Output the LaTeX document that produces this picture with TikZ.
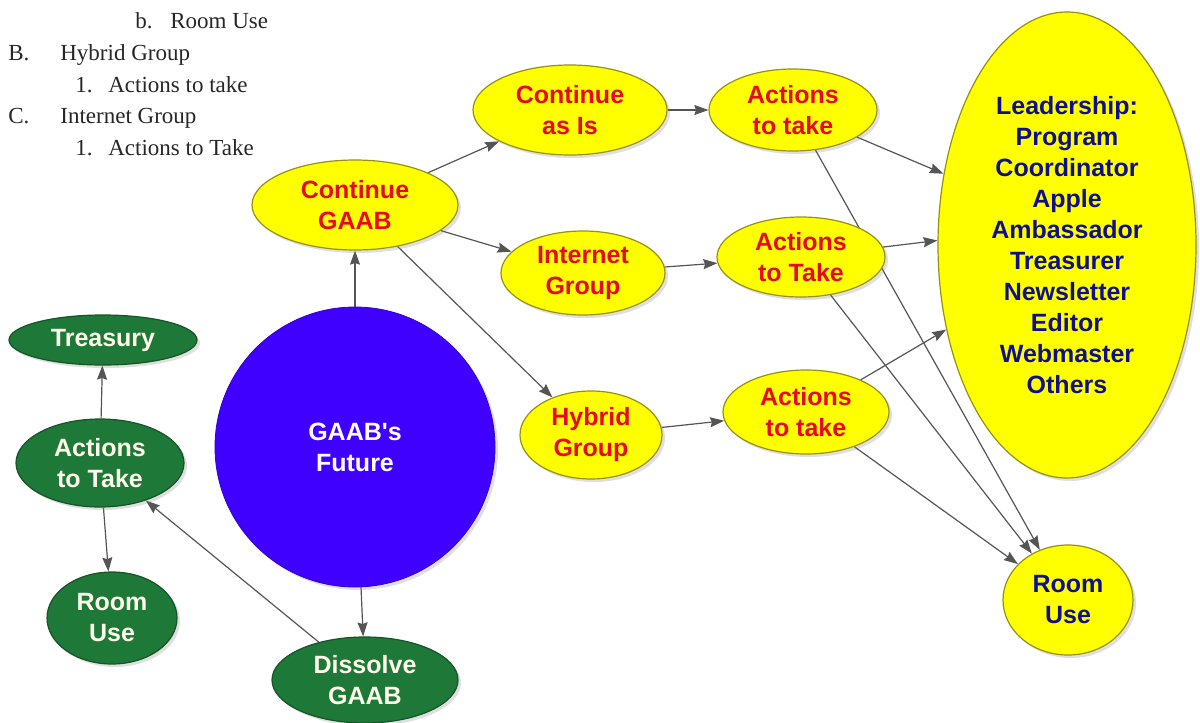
\documentclass[tikz,border=0pt]{standalone}
\usepackage{fontspec}
\setmainfont{Liberation Serif}
\setsansfont{Liberation Sans}
\usetikzlibrary{shapes.geometric, arrows.meta, shadows, backgrounds}

\definecolor{nodeyellow}{RGB}{255,255,0}
\definecolor{nodeedge}{RGB}{150,145,20}
\definecolor{nodered}{RGB}{230,10,30}
\definecolor{nodenavy}{RGB}{15,15,140}
\definecolor{nodegreen}{RGB}{30,120,55}
\definecolor{futureblue}{RGB}{64,0,255}
\definecolor{edgegray}{RGB}{85,85,85}

\tikzset{
    yellownode/.style = {ellipse, fill=nodeyellow, draw=nodeedge, line width=0.6pt, inner sep=0pt,
        align=center, font=\sffamily\bfseries\fontsize{12.5}{15.5}\selectfont,
        drop shadow={opacity=0.25, shadow xshift=1.5pt, shadow yshift=-1.5pt}},
    greennode/.style = {ellipse, fill=nodegreen, draw=nodegreen!70!black, line width=0.6pt, inner sep=0pt,
        align=center, text=white!92!yellow, font=\sffamily\bfseries\fontsize{12.5}{15.5}\selectfont,
        drop shadow={opacity=0.25, shadow xshift=1.5pt, shadow yshift=-1.5pt}},
    outline/.style = {anchor=base west, inner sep=0pt, font=\fontsize{11.5}{13}\selectfont, text=black!85},
    link/.style = {draw=edgegray, line width=0.6pt, -{Stealth[length=7pt, width=5pt, inset=0.8pt]}}
}

\begin{document}
\begin{tikzpicture}[x=0.5pt, y=-0.5pt]
    \useasboundingbox (0,0) rectangle (1200,723);

    \node[outline] (o1) at (135,28)  {\makebox[17.5pt][l]{b.}Room Use};
    \node[outline] (o2) at (8,60)    {\makebox[26pt][l]{B.}Hybrid Group};
    \node[outline] (o3) at (75,92)   {\makebox[16.5pt][l]{1.}Actions to take};
    \node[outline] (o4) at (8,123)   {\makebox[26pt][l]{C.}Internet Group};
    \node[outline] (o5) at (75,155)  {\makebox[16.5pt][l]{1.}Actions to Take};

    \node[circle, fill=futureblue, draw=futureblue!80!black, minimum size=140pt, inner sep=0pt,
          align=center, text=white, font=\sffamily\bfseries\fontsize{12.5}{15.5}\selectfont,
          drop shadow={opacity=0.25, shadow xshift=1.5pt, shadow yshift=-1.5pt}]
          (future) at (355,447) {GAAB\textquotesingle s\\Future};

    \node[yellownode, text=nodered, minimum width=103pt, minimum height=45pt] (cont) at (355,205) {Continue\\GAAB};
    \node[yellownode, text=nodered, minimum width=97pt, minimum height=45pt] (asis) at (570,110) {Continue\\as Is};
    \node[yellownode, text=nodered, minimum width=82pt, minimum height=42pt] (inet) at (583,273) {Internet\\Group};
    \node[yellownode, text=nodered, minimum width=71pt, minimum height=44pt] (hyb) at (591,435) {Hybrid\\Group};

    \node[yellownode, text=nodered, minimum width=84pt, minimum height=41pt] (act1) at (793,110) {Actions\\to take};
    \node[yellownode, text=nodered, minimum width=84pt, minimum height=40pt] (act2) at (801,257) {Actions\\to Take};
    \node[yellownode, text=nodered, minimum width=83pt, minimum height=42pt] (act3) at (806,412) {Actions\\to take};

    \node[yellownode, text=nodenavy, minimum width=129pt, minimum height=233pt] (lead) at (1067,245)
        {Leadership:\\Program\\Coordinator\\Apple\\Ambassador\\Treasurer\\Newsletter\\Editor\\Webmaster\\Others};
    \node[yellownode, text=nodenavy, minimum width=65pt, minimum height=55pt] (room) at (1068,600) {Room\\Use};

    \node[greennode, minimum width=94pt, minimum height=25pt] (treas) at (103,340) {Treasury};
    \node[greennode, minimum width=84pt, minimum height=44pt] (actg) at (100,463) {Actions\\to Take};
    \node[greennode, minimum width=65pt, minimum height=46pt] (roomg) at (112,618) {Room\\Use};
    \node[greennode, minimum width=93pt, minimum height=43pt] (diss) at (365,680) {Dissolve\\GAAB};

    % connectors, behind the nodes
    \begin{scope}[on background layer]
    \draw[link] (future) -- (cont);
    \draw[link] (future) -- (diss);
    \draw[link] (diss) -- (actg);
    \draw[link] (actg) -- (treas);
    \draw[link] (actg) -- (roomg);

    \draw[link] (cont) -- (asis);
    \draw[link] (cont) -- (inet);
    \draw[link] (cont) -- (hyb);

    \draw[link] (asis) -- (act1);
    \draw[link] (inet) -- (act2);
    \draw[link] (hyb) -- (act3);

    \draw[link] (act1) -- (lead.150);
    \draw[link] (act2) -- (lead.178);
    \draw[link] (act3) -- (lead.215);

    \draw[link] (act1) -- (room);
    \draw[link] (act2) -- (room);
    \draw[link] (act3) -- (room);
    \end{scope}
\end{tikzpicture}
\end{document}
